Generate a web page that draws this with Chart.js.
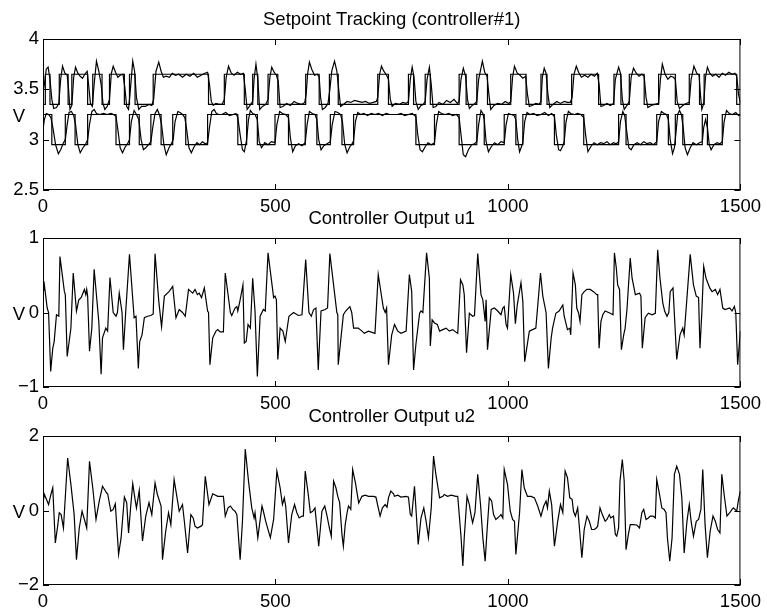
<!DOCTYPE html>
<html>
<head>
<meta charset="utf-8">
<script src="https://cdn.jsdelivr.net/npm/chart.js@4"></script>
<style>
  body { margin: 0; background: #fff; }
  #wrap { position: relative; width: 767px; height: 613px; }
  canvas { position: absolute; left: 0; top: 0; }
</style>
</head>
<body>
<div id="wrap">
  <canvas id="c1" width="767" height="613"></canvas>
  <canvas id="c2" width="767" height="613"></canvas>
  <canvas id="c3" width="767" height="613"></canvas>
</div>
<script>
const xTicks = [0, 500, 1000, 1500];
const titles = ['Setpoint Tracking (controller#1)', 'Controller Output u1', 'Controller Output u2'];

// setpoints: [time, level from that time on]
const upperSetpoint = [[0,3.35],[5,3.65],[15,3.35],[35,3.65],[54,3.35],[62,3.65],[96,3.35],[107,3.65],[127,3.35],[143,3.65],[175,3.35],[186,3.65],[198,3.35],[237,3.65],[356,3.35],[390,3.65],[433,3.35],[451,3.65],[462,3.35],[484,3.65],[505,3.35],[565,3.65],[594,3.35],[616,3.65],[635,3.35],[720,3.65],[743,3.35],[786,3.65],[797,3.35],[822,3.65],[833,3.35],[895,3.65],[910,3.35],[933,3.65],[956,3.35],[1006,3.65],[1039,3.35],[1071,3.65],[1084,3.35],[1137,3.65],[1195,3.35],[1228,3.65],[1243,3.35],[1261,3.65],[1293,3.35],[1324,3.65],[1360,3.35],[1390,3.65],[1412,3.35],[1422,3.65],[1492,3.35],[1500,3.35]];

const lowerSetpoint = [[0,3.25],[19,2.95],[48,3.25],[69,2.95],[96,3.25],[157,2.95],[186,3.25],[207,2.95],[232,3.25],[254,2.95],[279,3.25],[307,2.95],[354,3.25],[419,2.95],[438,3.25],[461,2.95],[499,3.25],[528,2.95],[564,3.25],[589,2.95],[618,3.25],[643,2.95],[668,3.25],[802,2.95],[842,3.25],[895,2.95],[933,3.25],[949,2.95],[992,3.25],[1017,2.95],[1032,3.25],[1100,2.95],[1121,3.25],[1163,2.95],[1238,3.25],[1254,2.95],[1320,3.25],[1345,2.95],[1360,3.25],[1376,2.95],[1418,3.25],[1429,2.95],[1461,3.25],[1500,3.25]];

const upperResponse = [[0,3.48],[3,3.55],[7,3.7],[11,3.72],[15,3.6],[19,3.4],[23,3.31],[29,3.32],[34,3.36],[38,3.6],[42,3.73],[47,3.66],[52,3.64],[55,3.5],[58,3.3],[62,3.34],[66,3.62],[70,3.72],[75,3.66],[80,3.63],[85,3.61],[90,3.65],[95,3.68],[98,3.55],[102,3.36],[106,3.33],[110,3.55],[115,3.78],[120,3.68],[125,3.55],[129,3.36],[133,3.3],[138,3.33],[143,3.4],[147,3.66],[151,3.73],[156,3.67],[161,3.62],[166,3.64],[172,3.65],[176,3.52],[180,3.33],[184,3.3],[188,3.5],[193,3.78],[197,3.68],[201,3.42],[206,3.3],[212,3.33],[220,3.33],[228,3.35],[234,3.34],[238,3.4],[243,3.68],[249,3.77],[254,3.68],[259,3.62],[265,3.63],[272,3.62],[278,3.66],[285,3.64],[292,3.65],[300,3.62],[308,3.65],[316,3.63],[324,3.66],[332,3.62],[340,3.64],[348,3.66],[354,3.67],[358,3.55],[362,3.38],[366,3.34],[372,3.36],[378,3.35],
  [385,3.35],[390,3.4],[394,3.62],[399,3.73],[405,3.66],[411,3.64],[418,3.67],[425,3.65],[431,3.66],[435,3.5],[439,3.3],[444,3.33],[451,3.38],[454,3.6],[458,3.75],[462,3.6],[466,3.3],[472,3.33],[479,3.35],[484,3.4],[488,3.62],[492,3.72],[497,3.67],[502,3.64],[506,3.58],[510,3.32],[516,3.33],[524,3.36],[532,3.34],[540,3.38],[548,3.36],[556,3.35],[563,3.37],[566,3.45],[569,3.65],[573,3.77],[578,3.7],[584,3.64],[590,3.65],[594,3.62],[597,3.42],[601,3.3],[607,3.32],[613,3.36],[617,3.5],[621,3.68],[627,3.78],[632,3.68],[636,3.5],[640,3.33],[646,3.35],[654,3.38],[662,3.37],[670,3.39],[678,3.38],[686,3.37],[694,3.38],[702,3.36],[710,3.37],[717,3.38],[720,3.42],[724,3.65],[728,3.73],[733,3.68],[739,3.64],[743,3.6],[747,3.4],
  [751,3.33],[758,3.36],[766,3.35],[774,3.37],[781,3.36],[786,3.38],[790,3.6],[794,3.72],[798,3.62],[802,3.38],[807,3.3],[813,3.34],[818,3.35],[822,3.38],[826,3.6],[831,3.72],[835,3.55],[839,3.32],[845,3.33],[852,3.37],[860,3.35],[868,3.39],[876,3.37],[884,3.4],[891,3.36],[895,3.38],[899,3.6],[904,3.71],[909,3.63],[913,3.4],[917,3.31],[923,3.34],[929,3.36],[933,3.38],[937,3.6],[945,3.78],[950,3.67],[955,3.63],[959,3.45],[963,3.3],[970,3.34],[978,3.36],[986,3.35],[994,3.38],[1002,3.36],[1006,3.38],[1010,3.62],[1014,3.73],[1020,3.66],[1026,3.64],[1032,3.61],[1038,3.63],[1042,3.45],[1046,3.33],[1052,3.34],[1060,3.36],[1067,3.35],[1071,3.38],[1074,3.62],[1078,3.71],[1082,3.66],[1086,3.45],[1090,3.32],[1097,3.35],[1105,3.38],[1113,3.36],[1121,3.38],[1128,3.37],
  [1134,3.37],[1138,3.42],[1142,3.65],[1147,3.73],[1152,3.67],[1158,3.62],[1165,3.64],[1172,3.62],[1179,3.65],[1186,3.63],[1192,3.66],[1196,3.55],[1200,3.33],[1206,3.34],[1213,3.36],[1220,3.34],[1227,3.36],[1231,3.6],[1238,3.72],[1242,3.66],[1246,3.4],[1250,3.3],[1256,3.34],[1261,3.38],[1265,3.62],[1270,3.71],[1276,3.66],[1282,3.63],[1288,3.65],[1293,3.63],[1297,3.42],[1301,3.32],[1308,3.34],[1316,3.35],[1324,3.36],[1328,3.6],[1332,3.75],[1338,3.65],[1344,3.6],[1350,3.63],[1356,3.62],[1360,3.6],[1364,3.38],[1369,3.31],[1376,3.34],[1383,3.36],[1390,3.37],[1394,3.6],[1400,3.73],[1406,3.66],[1411,3.64],[1414,3.45],[1417,3.3],[1421,3.36],[1425,3.62],[1429,3.72],[1434,3.66],[1440,3.63],[1447,3.65],[1454,3.62],[1461,3.66],[1468,3.64],[1475,3.67],[1482,3.65],[1488,3.66],[1492,3.63],[1496,3.45],[1500,3.36]];

const lowerResponse = [[0,3.1],[3,3.2],[7,3.26],[12,3.25],[17,3.22],[22,3.1],[27,2.95],[33,2.86],[38,2.9],[43,2.96],[48,3.0],[52,3.15],[56,3.27],[61,3.28],[66,3.24],[70,3.15],[75,2.95],[80,2.87],[86,2.92],[91,2.95],[96,3.0],[100,3.15],[105,3.28],[110,3.3],[115,3.26],[122,3.25],[130,3.26],[138,3.25],[146,3.26],[152,3.25],[157,3.23],[161,3.1],[166,2.92],[171,2.87],[177,2.93],[182,2.96],[186,3.0],[190,3.18],[196,3.29],[201,3.25],[206,3.2],[211,3.0],[216,2.9],[221,2.92],[227,2.95],[232,2.98],[236,3.12],[241,3.26],[246,3.3],[251,3.24],[255,3.15],[260,2.95],[265,2.85],[271,2.92],[276,2.96],[280,3.0],[284,3.18],[290,3.28],[295,3.27],[300,3.25],[305,3.22],[309,3.1],[314,2.92],[319,2.87],[325,2.93],[331,2.97],[337,2.95],[343,2.98],[349,2.96],[354,2.97],[358,3.12],[363,3.28],[368,3.3],[373,3.26],[378,3.25],
  [385,3.25],[393,3.27],[401,3.24],[409,3.25],[415,3.26],[419,3.22],[424,3.05],[429,2.9],[433,2.88],[438,3.0],[442,3.2],[446,3.29],[451,3.26],[456,3.25],[461,3.2],[465,2.98],[470,2.92],[477,2.97],[484,2.95],[491,2.98],[499,2.97],[503,3.15],[509,3.28],[515,3.26],[522,3.25],[528,3.22],[532,3.02],[537,2.88],[543,2.94],[550,2.96],[557,2.94],[564,2.97],[568,3.15],[573,3.28],[579,3.26],[585,3.25],[589,3.2],[593,3.0],[598,2.9],[604,2.94],[611,2.96],[618,2.98],[622,3.15],[628,3.28],[634,3.27],[640,3.25],[644,3.18],[649,2.95],[654,2.87],[660,2.93],[665,2.96],[668,2.99],[672,3.18],[677,3.27],[683,3.25],[690,3.26],[698,3.24],[706,3.26],[714,3.25],[722,3.26],[730,3.24],[738,3.26],[746,3.25],[754,3.25],
  [762,3.25],[770,3.26],[778,3.24],[786,3.25],[794,3.26],[802,3.23],[806,3.05],[811,2.9],[816,2.88],[822,2.93],[828,2.97],[835,2.95],[842,2.97],[846,3.15],[851,3.28],[857,3.26],[865,3.25],[873,3.26],[881,3.24],[889,3.25],[895,3.22],[899,3.05],[904,2.85],[909,2.83],[915,2.9],[922,2.95],[928,2.96],[933,2.98],[937,3.15],[942,3.29],[946,3.26],[949,3.2],[953,2.98],[958,2.88],[964,2.93],[971,2.97],[978,2.95],[985,2.98],[992,2.97],[996,3.15],[1001,3.26],[1007,3.25],[1013,3.24],[1017,3.2],[1021,3.0],[1025,2.88],[1029,2.93],[1032,2.97],[1036,3.18],[1041,3.27],[1047,3.25],[1055,3.26],[1063,3.24],[1071,3.25],[1079,3.27],[1087,3.24],[1094,3.26],[1100,3.23],[1104,3.05],[1109,2.9],[1113,2.89],[1118,2.94],[1121,2.98],[1125,3.18],[1130,3.28],[1135,3.26],
  [1143,3.25],[1150,3.26],[1157,3.25],[1163,3.22],[1167,3.05],[1172,2.88],[1178,2.93],[1185,2.97],[1192,2.95],[1199,2.97],[1206,2.96],[1213,2.98],[1220,2.95],[1227,2.97],[1233,2.96],[1238,2.98],[1242,3.18],[1247,3.28],[1251,3.24],[1255,3.1],[1260,2.92],[1265,2.9],[1271,2.95],[1278,2.97],[1285,2.95],[1292,2.98],[1299,2.96],[1306,2.97],[1313,2.95],[1320,2.98],[1324,3.18],[1330,3.28],[1336,3.26],[1341,3.25],[1345,3.2],[1349,3.0],[1354,2.86],[1358,2.92],[1361,3.05],[1365,3.25],[1369,3.29],[1373,3.25],[1377,3.12],[1381,2.92],[1386,2.85],[1392,2.92],[1398,2.97],[1405,2.95],[1412,2.97],[1418,2.98],[1421,3.12],[1425,3.2],[1429,3.12],[1433,2.95],[1437,2.9],[1443,2.95],[1450,2.97],[1456,2.96],[1461,2.98],[1465,3.18],[1470,3.29],[1476,3.26],[1483,3.25],[1490,3.27],[1496,3.24],[1500,3.25]];

const u1 = [[0,0.3],[2,0.42],[9,0.06],[12,0],[16.5,-0.79],[21,-0.48],[24,-0.39],[29,-0.03],[34,-0.05],[36.5,0.75],[46,0.28],[48,0.24],[52,-0.59],[60,-0.21],[65,0.53],[72,0.02],[77,0.17],[82,0.2],[89,0.31],[92,0.24],[94,0.31],[96,0.22],[100,-0.52],[105,-0.21],[110,0.58],[120,-0.12],[125,-0.83],[128,-0.34],[135,-0.21],[139,-0.25],[144,0.47],[151,0],[157,-0.05],[160,0],[164,0.26],[170,0.0],[173,-0.5],[178,0.02],[186,0.78],[196,-0.07],[200,-0.05],[205,-0.75],[208,-0.39],[213,-0.3],[218,-0.07],[225,-0.05],[232,-0.04],[237,-0.02],[241,0.79],[249,0.15],[255,-0.19],[261,0.22],[271,0.28],[279,0.35],[286,-0.07],[293,0.04],[300,0.0],[306,-0.05],[313,0.31],[322,0.26],[327,0.31],[332,0.24],[336,0.26],[341,0.2],[347,0.33],[354,0.02],[356,0],[359,-0.7],[365,-0.34],[372,-0.25],[376,-0.23],
  [381,-0.26],[388,-0.26],[392,0.53],[403,0],[406,-0.04],[413,0.06],[417,0.08],[419,0.02],[424,0.17],[430,0.37],[433,-0.41],[437,-0.39],[441,-0.16],[446,-0.21],[451,0.46],[456,0.02],[461,-0.86],[467,-0.05],[474,0.04],[478,0.02],[484,0.8],[496,0.2],[499,0.22],[502,0.17],[505,-0.63],[510,-0.21],[516,-0.25],[521,-0.39],[529,-0.05],[539,0],[549,-0.04],[557,-0.03],[565,0.71],[572,0],[577,-0.05],[582,0.04],[587,0.06],[592,-0.77],[598,0.02],[607,0.04],[612,0.06],[617,0.79],[632,0],[634,-0.03],[635,-0.7],[646,-0.03],[651,0.02],[660,0.08],[664,0],[668,-0.21],[678,-0.21],[686,-0.25],[691,-0.28],[700,-0.25],[714,-0.28],[721,0.51],[732,0.06],[736,0],[739,0.06],[743,-0.7],[750,-0.3],[754,-0.21],
  [756,-0.16],[763,-0.25],[770,-0.28],[781,-0.25],[788,0.51],[793,0.28],[797,-0.77],[802,-0.43],[810,-0.01],[813,0.02],[817,0],[825,0.8],[827,0.69],[831,0.46],[833,-0.45],[837,-0.1],[842,-0.14],[848,-0.16],[853,-0.25],[860,-0.23],[867,-0.21],[874,-0.25],[881,-0.23],[892,-0.28],[898,0.44],[903,0.37],[906,0.24],[911,-0.54],[917,-0.01],[924,-0.05],[928,-0.04],[935,0.79],[942,0.24],[946,0.17],[951,-0.12],[953,0.17],[956,-0.5],[964,0.04],[971,0.06],[978,0.02],[985,-0.03],[989,0.06],[992,0.08],[996,-0.16],[999,-0.21],[1006,0.51],[1012,0.26],[1016,-0.15],[1020,0.1],[1028,0.4],[1032,0.15],[1036,-0.66],[1046,-0.25],[1053,-0.23],[1060,-0.21],[1070,0.53],[1075,0.22],[1082,0],[1087,-0.75],[1093,-0.34],[1096,-0.21],[1103,-0.01],[1110,0.02],[1118,0.1],[1121,-0.05],[1128,-0.23],[1133,-0.21],
  [1135,-0.3],[1140,0.53],[1145,0.37],[1148,0.06],[1152,-0.01],[1155,-0.12],[1159,0.24],[1164,0.28],[1170,0.31],[1177,0.31],[1184,0.28],[1191,0.24],[1193,0.24],[1196,-0.48],[1200,-0.12],[1204,-0.03],[1209,0.02],[1220,-0.01],[1226,-0.03],[1229,0.8],[1233,0.6],[1236,0.37],[1240,0.31],[1244,-0.5],[1249,-0.3],[1252,-0.21],[1256,0.04],[1263,0.73],[1267,0.46],[1274,0.24],[1283,0.26],[1286,0.22],[1289,-0.48],[1295,-0.07],[1302,-0.01],[1310,-0.03],[1317,-0.01],[1322,0.84],[1327,0.46],[1333,0.13],[1337,0.02],[1342,-0.05],[1346,0.0],[1349,0.28],[1355,0.33],[1363,-0.63],[1370,-0.3],[1376,-0.21],[1379,-0.3],[1392,0.78],[1399,0.37],[1405,0.22],[1410,0.2],[1413,-0.48],[1417,0.0],[1421,0.62],[1426,0.46],[1434,0.33],[1439,0.28],[1446,0.31],[1451,0.24],[1456,0.31],[1462,0.06],[1467,0.04],[1477,0.06],[1482,0.02],[1487,0.08],[1490,0.0],[1494,-0.7],[1500,-0.25]];

const u2 = [[0,0.2],[3,0.43],[6,0.34],[12,0.16],[17,0.43],[21,0.61],[26.5,-0.87],[31.5,-0.42],[35,-0.06],[39,-0.11],[44,-0.47],[53,1.41],[60,0.7],[67,-0.11],[72,-1.32],[78,-0.47],[84,-0.02],[89,-0.24],[94,-0.47],[100,1.32],[107,0.61],[114,-0.24],[121,0.25],[128,0.65],[137,0.47],[139,0.45],[146,-0.02],[151,0.03],[155.5,0.18],[162.6,-1.18],[168,-0.73],[175,0.36],[180,0.21],[184,-0.6],[189,0.16],[193,0.72],[198,0.3],[201,0.07],[207,0.54],[214,-0.82],[221,-0.15],[228,0.21],[234,-0.11],[241,0.74],[246,0.43],[254,0.12],[257,-1.32],[264,-0.55],[270,-0.06],[275,-0.38],[282,0.83],[286,0.52],[293,-0.02],[300,0.16],[304,-0.29],[311,-1.14],[318,-0.11],[323,-0.2],[327,-0.42],[332,-0.47],[340,-0.42],[343,-0.38],[349,0.92],[357,0.16],[365,0.45],[376,0.38],
  [383,0.38],[388,0.38],[392,-0.15],[398,0.07],[403,0.12],[408,0.03],[413,-0.02],[417,-0.11],[424,-1.32],[429,-0.29],[435,1.65],[442,0.79],[449,0.07],[454,-0.2],[456,-0.06],[462,-0.73],[471,0.12],[474,-0.02],[479,-0.29],[489,-0.73],[496,-0.24],[503,1.06],[510,0.61],[515,0.16],[519,0.34],[522,0.12],[528,-0.87],[535,-0.11],[541,0.16],[546,-0.06],[551,-0.2],[557,-0.15],[560,-0.15],[564,1.06],[571,0.38],[575,-0.06],[580,-0.02],[585,0.07],[593,-0.96],[600,-0.02],[606,0.12],[611,-0.15],[616,-0.47],[620,-0.69],[625,0.79],[630,0.61],[634,0.38],[638,0.21],[643,-0.64],[646,-0.96],[650,-0.38],[654,-0.06],[657,0.12],[662,0.03],[666,1.1],[672,0.74],[679,0.2],[686,0.38],[693,0.41],[700,0.38],[711,0.38],[716,0.36],[725,-0.15],[730,0.07],[736,0.16],[740,0.09],[743,0.34],[748,0.52],[754,0.45],
  [756,0.38],[763,0.41],[770,0.36],[781,0.38],[786,0.36],[790,-0.11],[793,-0.15],[799,0.65],[802,0.07],[807,-0.91],[813,-0.2],[819,0.07],[824,-0.29],[829,-0.73],[835,0.07],[840,1.46],[845,0.97],[853,0.34],[860,0.38],[863,0.43],[870,0.38],[878,0.41],[888,0.38],[892,0.38],[899,-0.69],[903,-1.49],[906,-0.73],[912,0.38],[917,0.16],[921,-0.15],[924,-0.33],[929,-0.06],[935,0.97],[941,0.16],[946,-0.73],[951,-1.36],[955,-0.55],[960,0.34],[965,0.25],[969,-0.11],[974,-0.24],[982,-0.15],[985,-0.11],[989,-0.2],[992,1.1],[999,0.7],[1005,-0.02],[1010,-0.24],[1014,-0.29],[1017,-1.18],[1025,-0.06],[1030,1.1],[1035,0.61],[1042,0.38],[1050,0.38],[1057,0.34],[1064,0.12],[1071,-0.15],[1077,0.12],[1082,0.25],[1085,0.07],[1089,0.52],[1094,0.16],[1100,-0.96],[1107,-0.29],[1113,0.16],[1118,-0.06],[1123,1.06],[1128,0.88],[1133,0.34],
  [1138,0.3],[1141,-0.02],[1145,-0.15],[1150,0.07],[1154,-0.51],[1159,-1.27],[1164,-0.51],[1170,-0.15],[1175,-0.29],[1180,-0.51],[1186,-0.51],[1190,-0.47],[1193,-0.42],[1198,0.07],[1203,-0.11],[1209,-0.29],[1213,-0.24],[1218,-0.11],[1221,-0.2],[1227,-0.15],[1231,-0.64],[1234,-0.69],[1238,-0.47],[1241,0.79],[1246,1.37],[1250,0.79],[1254,-1.05],[1259,-0.64],[1263,-0.38],[1270,-0.38],[1277,-0.39],[1283,-0.47],[1288,-0.06],[1292,0.03],[1297,-0.24],[1302,-0.2],[1306,-0.15],[1312,-0.15],[1317,-0.2],[1320,0.83],[1326,0.43],[1331,0.07],[1336,0.03],[1340,-0.06],[1343,-0.73],[1348,-1.36],[1353,-0.73],[1358,0.97],[1363,1.19],[1369,0.97],[1374,0.34],[1379,-1.14],[1385,-0.29],[1390,0.16],[1394,-0.29],[1399,-0.69],[1405,-0.29],[1410,-0.24],[1415,0.03],[1419,1.1],[1424,-0.38],[1429,-1.27],[1435,-0.55],[1441,-0.15],[1446,-0.29],[1451,-0.51],[1456,-0.6],[1460,0.97],[1465,0.43],[1471,-0.15],[1477,-0.06],[1482,0.03],[1485,0.07],[1492,-0.02],[1496,0.3],[1500,0.52]];

const FONT = '"Liberation Sans", Arial, Helvetica, sans-serif';
const FONT_SIZE = 18.5;
Chart.defaults.font.family = FONT;
Chart.defaults.font.size = FONT_SIZE;
Chart.defaults.color = '#000';

const toXY = arr => arr.map(p => ({ x: p[0], y: p[1] }));

// box, inward ticks on all sides, title and "V" label like the matlab figure
const matlabAxes = {
    id: 'matlabAxes',
    afterDraw(chart, args, opts) {
        const { ctx, chartArea: a, scales } = chart;
        ctx.save();
        ctx.strokeStyle = '#000';
        ctx.lineWidth = 1;
        ctx.strokeRect(a.left + 0.5, a.top + 0.5, a.right - a.left - 1, a.bottom - a.top - 1);
        ctx.beginPath();
        scales.x.ticks.forEach(t => {
            const px = Math.round(scales.x.getPixelForValue(t.value)) + 0.5;
            ctx.moveTo(px, a.bottom); ctx.lineTo(px, a.bottom - 6);
            ctx.moveTo(px, a.top); ctx.lineTo(px, a.top + 6);
        });
        scales.y.ticks.forEach(t => {
            const py = Math.round(scales.y.getPixelForValue(t.value)) + 0.5;
            ctx.moveTo(a.left, py); ctx.lineTo(a.left + 6, py);
            ctx.moveTo(a.right, py); ctx.lineTo(a.right - 6, py);
        });
        ctx.stroke();
        ctx.fillStyle = '#000';
        ctx.font = FONT_SIZE + 'px ' + FONT;
        ctx.textAlign = 'center';
        ctx.textBaseline = 'alphabetic';
        ctx.fillText(opts.title, (a.left + a.right) / 2, a.top - 14);
        ctx.fillText('V', 19, (a.top + a.bottom) / 2 + 7);
        ctx.restore();
    }
};

const line = (data, stepped) => ({
    data: toXY(data),
    borderColor: '#000',
    borderWidth: 1.2,
    pointRadius: 0,
    tension: 0,
    stepped: stepped
});

const makeChart = (id, datasets, yMin, yMax, yStep, title, top, bottom) => {
    return new Chart(document.getElementById(id), {
        type: 'line',
        data: { datasets: datasets },
        options: {
            responsive: false,
            animation: false,
            layout: { padding: { top: top, right: 26, bottom: 0, left: 0 } },
            plugins: { legend: { display: false }, tooltip: { enabled: false }, matlabAxes: { title: title } },
            scales: {
                x: {
                    type: 'linear', min: 0, max: 1500,
                    afterBuildTicks: s => { s.ticks = xTicks.map(v => ({ value: v })); },
                    afterFit: s => { s.height = 613 - bottom; },
                    grid: { display: false, drawTicks: false }, border: { display: false },
                    ticks: { maxRotation: 0, autoSkip: false, padding: 6, callback: v => String(v) }
                },
                y: {
                    min: yMin, max: yMax,
                    afterFit: s => { s.width = 43; },
                    grid: { display: false, drawTicks: false }, border: { display: false },
                    ticks: { stepSize: yStep, padding: 4, callback: v => String(v).replace('-', '\u2212') }
                }
            }
        },
        plugins: [matlabAxes]
    });
};

makeChart('c1', [line(upperSetpoint, true), line(lowerSetpoint, true), line(upperResponse, false), line(lowerResponse, false)],
    2.5, 4, 0.5, titles[0], 39, 190);
makeChart('c2', [line(u1, false)], -1, 1, 1, titles[1], 238, 387);
makeChart('c3', [line(u2, false)], -2, 2, 2, titles[2], 436, 585);
</script>
</body>
</html>
